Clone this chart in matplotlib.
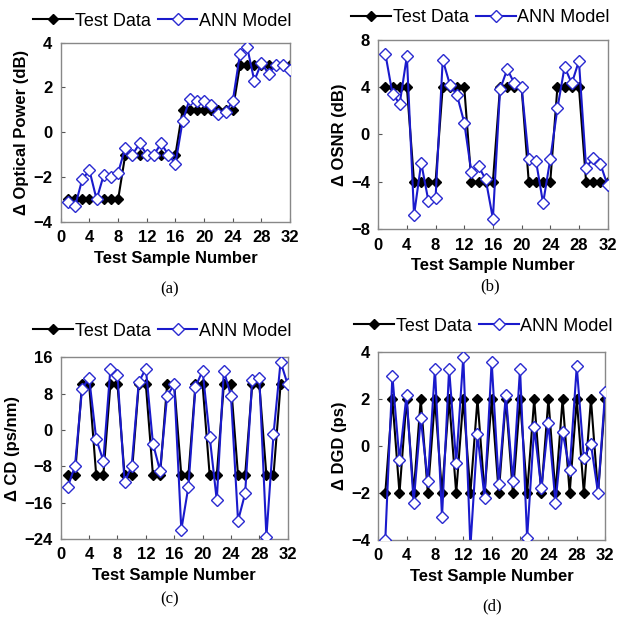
import numpy as np
import matplotlib
matplotlib.use("Agg")
import matplotlib.pyplot as plt

plt.rcParams['font.family'] = ['Liberation Sans', 'DejaVu Sans']

# --- data ---
samples = list(range(1, 33))

power_test = [-3] * 8 + [-1] * 8 + [1] * 8 + [3] * 8
power_ann = [-3.1, -3.3, -2.1, -1.7, -3.0, -1.9, -2.0, -1.8,
             -0.7, -1.0, -0.5, -1.0, -1.0, -0.5, -1.0, -1.4,
             0.5, 1.5, 1.4, 1.4, 1.2, 0.8, 0.9, 1.4,
             3.5, 3.8, 2.3, 3.1, 2.6, 3.0, 3.0, 2.8]

osnr_test = ([4] * 4 + [-4] * 4) * 4
osnr_ann = [6.8, 3.4, 2.6, 6.6, -6.8, -2.4, -5.6, -5.4,
            6.3, 4.2, 3.3, 1.0, -3.2, -2.7, -3.8, -7.1,
            3.8, 5.5, 4.3, 4.0, -2.1, -2.2, -5.8, -2.1,
            2.2, 5.7, 4.3, 6.2, -2.8, -2.0, -2.5, -4.3]

cd_test = ([-10, -10, 10, 10]) * 8
cd_ann = [-12.5, -8, 9, 11.5, -2, -6.8, 13.5, 12,
          -11.5, -8, 10.5, 13.5, -3, -9, 7.5, 10,
          -22, -12.5, 9.5, 13, -1.5, -15.5, 13, 7.5,
          -20, -14, 11, 11.5, -23.5, -1, 15, 10]

dgd_test = [-2, 2] * 16
dgd_ann = [-4.0, 3.0, -0.6, 2.2, -2.4, 1.2, -1.5, 3.3,
           -3.0, 3.3, -0.7, 3.8, -4.3, 0.5, -2.2, 3.6,
           -1.6, 2.2, -1.5, 3.3, -3.9, 0.8, -1.8, 1.0,
           -2.4, 0.6, -1.0, 3.4, -0.5, 0.1, -2.0, 2.3]

panels = [
    # rect, test, ann, ylabel, ylim, yticks, caption, legend anchor, caption pos
    ([0.098, 0.641, 0.370, 0.290], power_test, power_ann, "Δ Optical Power (dB)",
     (-4, 4), [-4, -2, 0, 2, 4], "(a)", (0.262, 0.966), (0.274, 0.531)),
    ([0.610, 0.629, 0.370, 0.307], osnr_test, osnr_ann, "Δ OSNR (dB)",
     (-8, 8), [-8, -4, 0, 4, 8], "(b)", (0.775, 0.971), (0.790, 0.537)),
    ([0.098, 0.128, 0.366, 0.294], cd_test, cd_ann, "Δ CD (ps/nm)",
     (-24, 16), [-24, -16, -8, 0, 8, 16], "(c)", (0.262, 0.464), (0.274, 0.030)),
    ([0.610, 0.126, 0.366, 0.304], dgd_test, dgd_ann, "Δ DGD (ps)",
     (-4, 4), [-4, -2, 0, 2, 4], "(d)", (0.780, 0.472), (0.794, 0.018)),
]

fig = plt.figure(figsize=(6.2, 6.18), dpi=100)

for rect, test, ann, ylab, ylim, yticks, cap, leg_xy, cap_xy in panels:
    ax = fig.add_axes(rect)
    ax.plot(samples, test, color='black', lw=1.5, marker='D', ms=5.5,
            mfc='black', mec='black', label='Test Data', zorder=2)
    ax.plot(samples, ann, color='#1a1acc', lw=1.5, marker='D', ms=6.5,
            mfc='white', mec='#2a2ad0', mew=1.0, label='ANN Model', zorder=3)
    ax.set_xlim(0, 32)
    ax.set_ylim(*ylim)
    ax.set_xticks(range(0, 33, 4))
    ax.set_yticks(yticks)
    ax.tick_params(direction='in', length=3, labelsize=12, width=0.8,
                   color='#555555', pad=6)
    for lab in ax.get_xticklabels() + ax.get_yticklabels():
        lab.set_fontweight('bold')
    for sp in ax.spines.values():
        sp.set_color('#888888')
        sp.set_linewidth(1.0)
    ax.set_xlabel("Test Sample Number", fontsize=12, fontweight='bold', labelpad=4)
    ax.set_ylabel(ylab, fontsize=12, fontweight='bold', labelpad=3)
    ax.legend(loc='center', bbox_to_anchor=leg_xy, bbox_transform=fig.transFigure,
              ncol=2, frameon=False, fontsize=13, handlelength=2.2,
              handletextpad=0.1, columnspacing=0.4, borderaxespad=0)
    fig.text(cap_xy[0], cap_xy[1], cap, fontsize=12, family=['Liberation Serif'],
             ha='center', va='center')

fig.savefig("out.png", dpi=100)
